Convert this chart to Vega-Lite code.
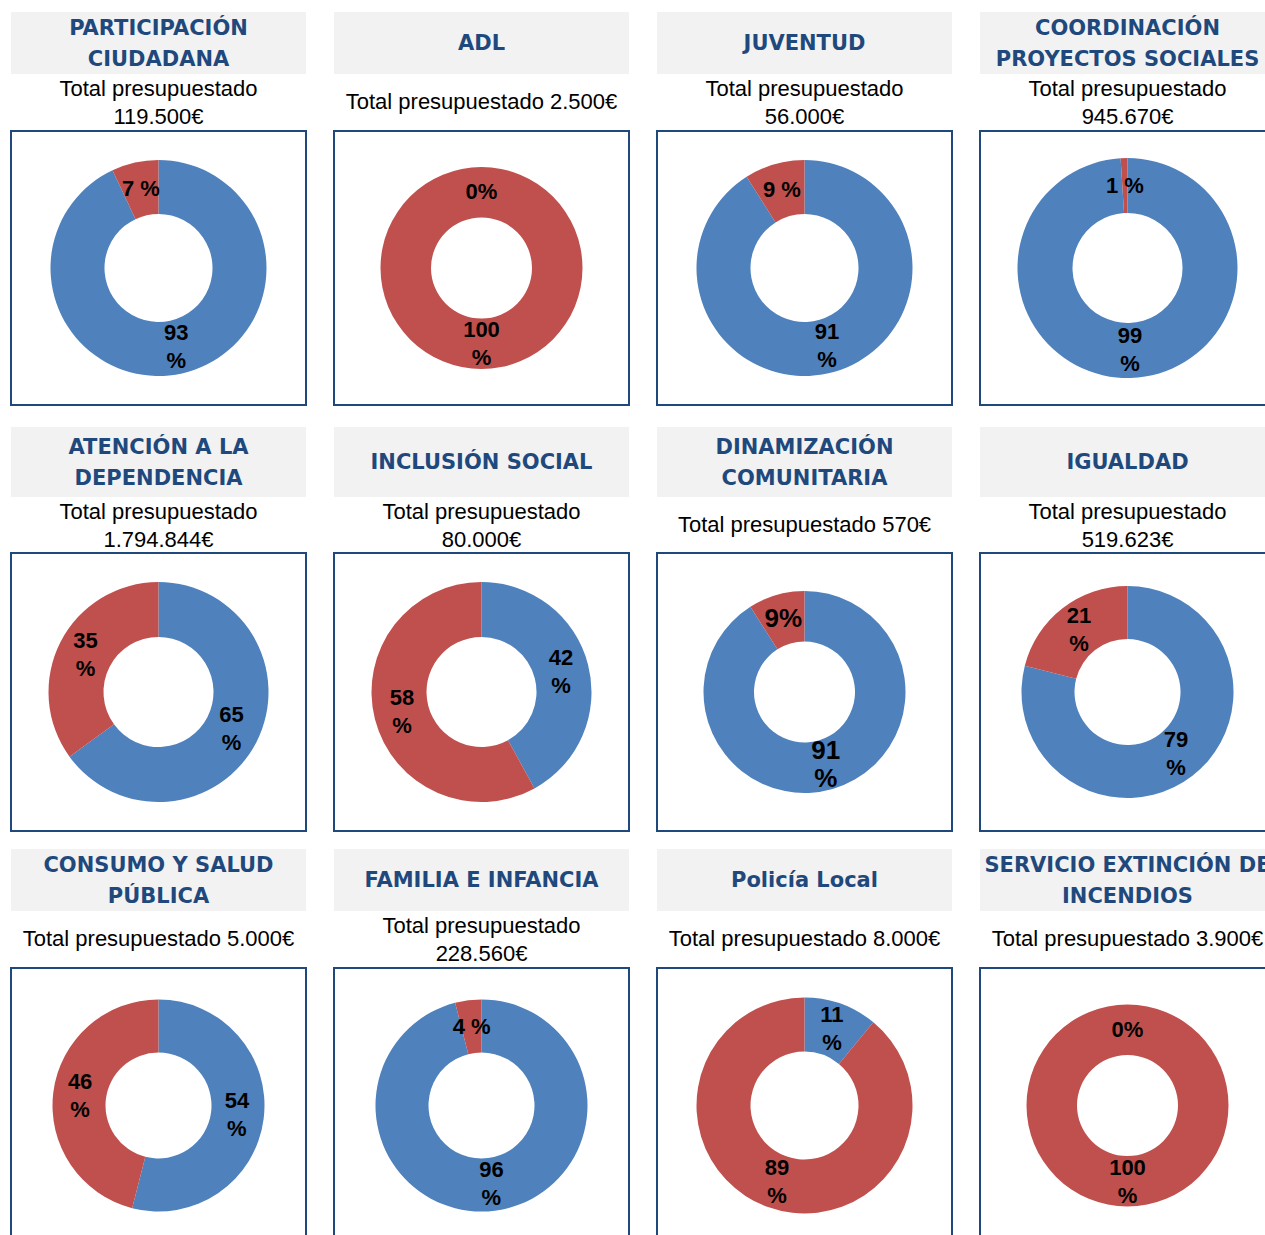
{
  "$schema": "https://vega.github.io/schema/vega-lite/v6.json",
  "padding": {"left": 10, "top": 12, "right": 0, "bottom": 0},
  "background": "white",
  "config": {"view": {"stroke": null}, "facet": {"spacing": 28}, "concat": {"spacing": 0}},
  "datasets": {
    "paneles": [
      {"orden": 1, "titulo": "PARTICIPACIÓN\nCIUDADANA", "subtitulo": "Total presupuestado\n119.500€"},
      {"orden": 2, "titulo": "ADL", "subtitulo": "Total presupuestado 2.500€"},
      {"orden": 3, "titulo": "JUVENTUD", "subtitulo": "Total presupuestado\n56.000€"},
      {"orden": 4, "titulo": "COORDINACIÓN\nPROYECTOS SOCIALES", "subtitulo": "Total presupuestado\n945.670€"},
      {"orden": 5, "titulo": "ATENCIÓN A LA\nDEPENDENCIA", "subtitulo": "Total presupuestado\n1.794.844€"},
      {"orden": 6, "titulo": "INCLUSIÓN SOCIAL", "subtitulo": "Total presupuestado\n80.000€"},
      {"orden": 7, "titulo": "DINAMIZACIÓN\nCOMUNITARIA", "subtitulo": "Total presupuestado 570€"},
      {"orden": 8, "titulo": "IGUALDAD", "subtitulo": "Total presupuestado\n519.623€"},
      {"orden": 9, "titulo": "CONSUMO Y SALUD\nPÚBLICA", "subtitulo": "Total presupuestado 5.000€"},
      {"orden": 10, "titulo": "FAMILIA E INFANCIA", "subtitulo": "Total presupuestado\n228.560€"},
      {"orden": 11, "titulo": "Policía Local", "subtitulo": "Total presupuestado 8.000€"},
      {"orden": 12, "titulo": "SERVICIO EXTINCIÓN DE\nINCENDIOS", "subtitulo": "Total presupuestado 3.900€"}
    ],
    "valores": [
      {"orden": 1, "cat": "Ejecutado", "pct": 93, "etiqueta": "93\n%"},
      {"orden": 1, "cat": "Pendiente", "pct": 7, "etiqueta": "7 %"},
      {"orden": 2, "cat": "Ejecutado", "pct": 0, "etiqueta": "0%"},
      {"orden": 2, "cat": "Pendiente", "pct": 100, "etiqueta": "100\n%"},
      {"orden": 3, "cat": "Ejecutado", "pct": 91, "etiqueta": "91\n%"},
      {"orden": 3, "cat": "Pendiente", "pct": 9, "etiqueta": "9 %"},
      {"orden": 4, "cat": "Ejecutado", "pct": 99, "etiqueta": "99\n%"},
      {"orden": 4, "cat": "Pendiente", "pct": 1, "etiqueta": "1 %"},
      {"orden": 5, "cat": "Ejecutado", "pct": 65, "etiqueta": "65\n%"},
      {"orden": 5, "cat": "Pendiente", "pct": 35, "etiqueta": "35\n%"},
      {"orden": 6, "cat": "Ejecutado", "pct": 42, "etiqueta": "42\n%"},
      {"orden": 6, "cat": "Pendiente", "pct": 58, "etiqueta": "58\n%"},
      {"orden": 7, "cat": "Ejecutado", "pct": 91, "etiqueta": "91\n%"},
      {"orden": 7, "cat": "Pendiente", "pct": 9, "etiqueta": "9%"},
      {"orden": 8, "cat": "Ejecutado", "pct": 79, "etiqueta": "79\n%"},
      {"orden": 8, "cat": "Pendiente", "pct": 21, "etiqueta": "21\n%"},
      {"orden": 9, "cat": "Ejecutado", "pct": 54, "etiqueta": "54\n%"},
      {"orden": 9, "cat": "Pendiente", "pct": 46, "etiqueta": "46\n%"},
      {"orden": 10, "cat": "Ejecutado", "pct": 96, "etiqueta": "96\n%"},
      {"orden": 10, "cat": "Pendiente", "pct": 4, "etiqueta": "4 %"},
      {"orden": 11, "cat": "Ejecutado", "pct": 11, "etiqueta": "11\n%"},
      {"orden": 11, "cat": "Pendiente", "pct": 89, "etiqueta": "89\n%"},
      {"orden": 12, "cat": "Ejecutado", "pct": 0, "etiqueta": "0%"},
      {"orden": 12, "cat": "Pendiente", "pct": 100, "etiqueta": "100\n%"}
    ]
  },
  "spacing": 21,
  "vconcat": [
    {
      "spacing": 0,
      "vconcat": [
        {
          "data": {"name": "paneles"},
          "transform": [{"filter": {"field": "orden", "oneOf": [1, 2, 3, 4]}}],
          "facet": {"column": {"field": "orden", "type": "ordinal", "header": {"labels": false, "title": null}}},
          "spacing": 28,
          "spec": {
            "width": 295, "height": 62,
            "view": {"fill": "#f2f2f2", "stroke": null},
            "mark": {"type": "text", "font": "DejaVu Sans", "fontWeight": "bold", "fontSize": 21, "color": "#1f497d", "lineBreak": "\n", "lineHeight": 31, "dy": {"expr": "indexof(datum.titulo, '\\n') >= 0 ? -14.5 : 1"}},
            "encoding": {"text": {"field": "titulo", "type": "nominal"}}
          }
        },
        {
          "data": {"name": "paneles"},
          "transform": [{"filter": {"field": "orden", "oneOf": [1, 2, 3, 4]}}],
          "facet": {"column": {"field": "orden", "type": "ordinal", "header": {"labels": false, "title": null}}},
          "spacing": 28,
          "spec": {
            "width": 295, "height": 56,
            "view": {"stroke": null},
            "mark": {"type": "text", "font": "Liberation Sans", "fontSize": 22, "color": "#000000", "lineBreak": "\n", "lineHeight": 28, "dy": {"expr": "indexof(datum.subtitulo, '\\n') >= 0 ? -13 : 0"}},
            "encoding": {"text": {"field": "subtitulo", "type": "nominal"}}
          }
        },
        {
          "data": {"name": "valores"},
          "transform": [{"filter": {"field": "orden", "oneOf": [1, 2, 3, 4]}}],
          "facet": {"column": {"field": "orden", "type": "ordinal", "header": {"labels": false, "title": null}}},
          "spacing": 26,
          "spec": {
            "width": 295, "height": 274,
            "view": {"stroke": "#1f497d", "strokeWidth": 2},
            "encoding": {
              "theta": {"field": "pct", "type": "quantitative", "stack": true},
              "order": {"field": "cat", "type": "ordinal", "sort": "ascending"}
            },
            "layer": [
              {
                "mark": {"type": "arc", "outerRadius": {"expr": "datum.orden == 2 || datum.orden == 7 || datum.orden == 12 ? 101 : datum.orden == 4 || datum.orden == 5 || datum.orden == 6 ? 110 : datum.orden == 8 || datum.orden == 9 || datum.orden == 10 ? 106 : 108"}, "innerRadius": {"expr": "datum.orden == 2 || datum.orden == 7 || datum.orden == 12 ? 50.5 : datum.orden == 4 || datum.orden == 5 || datum.orden == 6 ? 55 : datum.orden == 8 || datum.orden == 9 || datum.orden == 10 ? 53 : 54"}},
                "encoding": {
                  "color": {"field": "cat", "type": "nominal", "scale": {"domain": ["Ejecutado", "Pendiente"], "range": ["#4f81bd", "#c0504d"]}, "legend": null}
                }
              },
              {
                "mark": {"type": "text", "radius": {"expr": "datum.orden == 2 || datum.orden == 7 || datum.orden == 12 ? 76 : datum.orden == 4 || datum.orden == 5 || datum.orden == 6 ? 82 : datum.orden == 8 || datum.orden == 9 || datum.orden == 10 ? 79 : 81"}, "font": "Liberation Sans", "fontWeight": "bold", "color": "#000000", "lineBreak": "\n", "lineHeight": 28, "dy": {"expr": "indexof(datum.etiqueta, '\\n') >= 0 ? -14 : 0"}},
                "encoding": {
                  "detail": {"field": "cat", "type": "nominal"},
                  "text": {"field": "etiqueta", "type": "nominal"},
                  "size": {"condition": {"test": "datum.orden == 7", "value": 26}, "value": 22}
                }
              }
            ]
          }
        }
      ]
    },
    {
      "spacing": 17,
      "vconcat": [
        {
          "spacing": 0,
          "vconcat": [
            {
              "data": {"name": "paneles"},
              "transform": [{"filter": {"field": "orden", "oneOf": [5, 6, 7, 8]}}],
              "facet": {"column": {"field": "orden", "type": "ordinal", "header": {"labels": false, "title": null}}},
              "spacing": 28,
              "spec": {
                "width": 295, "height": 70,
                "view": {"fill": "#f2f2f2", "stroke": null},
                "mark": {"type": "text", "font": "DejaVu Sans", "fontWeight": "bold", "fontSize": 21, "color": "#1f497d", "lineBreak": "\n", "lineHeight": 31, "dy": {"expr": "indexof(datum.titulo, '\\n') >= 0 ? -14.5 : 1"}},
                "encoding": {"text": {"field": "titulo", "type": "nominal"}}
              }
            },
            {
              "data": {"name": "paneles"},
              "transform": [{"filter": {"field": "orden", "oneOf": [5, 6, 7, 8]}}],
              "facet": {"column": {"field": "orden", "type": "ordinal", "header": {"labels": false, "title": null}}},
              "spacing": 28,
              "spec": {
                "width": 295, "height": 55,
                "view": {"stroke": null},
                "mark": {"type": "text", "font": "Liberation Sans", "fontSize": 22, "color": "#000000", "lineBreak": "\n", "lineHeight": 28, "dy": {"expr": "indexof(datum.subtitulo, '\\n') >= 0 ? -13 : 0"}},
                "encoding": {"text": {"field": "subtitulo", "type": "nominal"}}
              }
            },
            {
              "data": {"name": "valores"},
              "transform": [{"filter": {"field": "orden", "oneOf": [5, 6, 7, 8]}}],
              "facet": {"column": {"field": "orden", "type": "ordinal", "header": {"labels": false, "title": null}}},
              "spacing": 26,
              "spec": {
                "width": 295, "height": 278,
                "view": {"stroke": "#1f497d", "strokeWidth": 2},
                "encoding": {
                  "theta": {"field": "pct", "type": "quantitative", "stack": true},
                  "order": {"field": "cat", "type": "ordinal", "sort": "ascending"}
                },
                "layer": [
                  {
                    "mark": {"type": "arc", "outerRadius": {"expr": "datum.orden == 2 || datum.orden == 7 || datum.orden == 12 ? 101 : datum.orden == 4 || datum.orden == 5 || datum.orden == 6 ? 110 : datum.orden == 8 || datum.orden == 9 || datum.orden == 10 ? 106 : 108"}, "innerRadius": {"expr": "datum.orden == 2 || datum.orden == 7 || datum.orden == 12 ? 50.5 : datum.orden == 4 || datum.orden == 5 || datum.orden == 6 ? 55 : datum.orden == 8 || datum.orden == 9 || datum.orden == 10 ? 53 : 54"}},
                    "encoding": {
                      "color": {"field": "cat", "type": "nominal", "scale": {"domain": ["Ejecutado", "Pendiente"], "range": ["#4f81bd", "#c0504d"]}, "legend": null}
                    }
                  },
                  {
                    "mark": {"type": "text", "radius": {"expr": "datum.orden == 2 || datum.orden == 7 || datum.orden == 12 ? 76 : datum.orden == 4 || datum.orden == 5 || datum.orden == 6 ? 82 : datum.orden == 8 || datum.orden == 9 || datum.orden == 10 ? 79 : 81"}, "font": "Liberation Sans", "fontWeight": "bold", "color": "#000000", "lineBreak": "\n", "lineHeight": 28, "dy": {"expr": "indexof(datum.etiqueta, '\\n') >= 0 ? -14 : 0"}},
                    "encoding": {
                      "detail": {"field": "cat", "type": "nominal"},
                      "text": {"field": "etiqueta", "type": "nominal"},
                      "size": {"condition": {"test": "datum.orden == 7", "value": 26}, "value": 22}
                    }
                  }
                ]
              }
            }
          ]
        },
        {
          "spacing": 0,
          "vconcat": [
            {
              "data": {"name": "paneles"},
              "transform": [{"filter": {"field": "orden", "oneOf": [9, 10, 11, 12]}}],
              "facet": {"column": {"field": "orden", "type": "ordinal", "header": {"labels": false, "title": null}}},
              "spacing": 28,
              "spec": {
                "width": 295, "height": 62,
                "view": {"fill": "#f2f2f2", "stroke": null},
                "mark": {"type": "text", "font": "DejaVu Sans", "fontWeight": "bold", "fontSize": 21, "color": "#1f497d", "lineBreak": "\n", "lineHeight": 31, "dy": {"expr": "indexof(datum.titulo, '\\n') >= 0 ? -14.5 : 1"}},
                "encoding": {"text": {"field": "titulo", "type": "nominal"}}
              }
            },
            {
              "data": {"name": "paneles"},
              "transform": [{"filter": {"field": "orden", "oneOf": [9, 10, 11, 12]}}],
              "facet": {"column": {"field": "orden", "type": "ordinal", "header": {"labels": false, "title": null}}},
              "spacing": 28,
              "spec": {
                "width": 295, "height": 56,
                "view": {"stroke": null},
                "mark": {"type": "text", "font": "Liberation Sans", "fontSize": 22, "color": "#000000", "lineBreak": "\n", "lineHeight": 28, "dy": {"expr": "indexof(datum.subtitulo, '\\n') >= 0 ? -13 : 0"}},
                "encoding": {"text": {"field": "subtitulo", "type": "nominal"}}
              }
            },
            {
              "data": {"name": "valores"},
              "transform": [{"filter": {"field": "orden", "oneOf": [9, 10, 11, 12]}}],
              "facet": {"column": {"field": "orden", "type": "ordinal", "header": {"labels": false, "title": null}}},
              "spacing": 26,
              "spec": {
                "width": 295, "height": 275,
                "view": {"stroke": "#1f497d", "strokeWidth": 2},
                "encoding": {
                  "theta": {"field": "pct", "type": "quantitative", "stack": true},
                  "order": {"field": "cat", "type": "ordinal", "sort": "ascending"}
                },
                "layer": [
                  {
                    "mark": {"type": "arc", "outerRadius": {"expr": "datum.orden == 2 || datum.orden == 7 || datum.orden == 12 ? 101 : datum.orden == 4 || datum.orden == 5 || datum.orden == 6 ? 110 : datum.orden == 8 || datum.orden == 9 || datum.orden == 10 ? 106 : 108"}, "innerRadius": {"expr": "datum.orden == 2 || datum.orden == 7 || datum.orden == 12 ? 50.5 : datum.orden == 4 || datum.orden == 5 || datum.orden == 6 ? 55 : datum.orden == 8 || datum.orden == 9 || datum.orden == 10 ? 53 : 54"}},
                    "encoding": {
                      "color": {"field": "cat", "type": "nominal", "scale": {"domain": ["Ejecutado", "Pendiente"], "range": ["#4f81bd", "#c0504d"]}, "legend": null}
                    }
                  },
                  {
                    "mark": {"type": "text", "radius": {"expr": "datum.orden == 2 || datum.orden == 7 || datum.orden == 12 ? 76 : datum.orden == 4 || datum.orden == 5 || datum.orden == 6 ? 82 : datum.orden == 8 || datum.orden == 9 || datum.orden == 10 ? 79 : 81"}, "font": "Liberation Sans", "fontWeight": "bold", "color": "#000000", "lineBreak": "\n", "lineHeight": 28, "dy": {"expr": "indexof(datum.etiqueta, '\\n') >= 0 ? -14 : 0"}},
                    "encoding": {
                      "detail": {"field": "cat", "type": "nominal"},
                      "text": {"field": "etiqueta", "type": "nominal"},
                      "size": {"condition": {"test": "datum.orden == 7", "value": 26}, "value": 22}
                    }
                  }
                ]
              }
            }
          ]
        }
      ]
    }
  ]
}
